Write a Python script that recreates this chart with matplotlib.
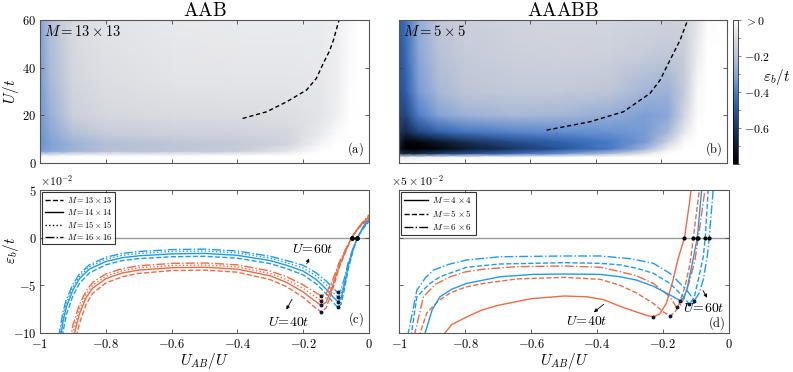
import numpy as np
import matplotlib
matplotlib.use('Agg')
import matplotlib.pyplot as plt
from matplotlib.colors import LinearSegmentedColormap
from matplotlib.ticker import FuncFormatter, MultipleLocator, NullFormatter

plt.rcParams['mathtext.fontset'] = 'cm'
plt.rcParams['font.family'] = ['DejaVu Serif']

# ---------------- heat maps (eps_b / t) ----------------
# AAB, M = 13x13
aab_x = [-1, -0.97, -0.9, -0.8, -0.6, -0.4, -0.25, -0.15, -0.1, -0.06, -0.03, 0]
aab_u = [0, 3, 5, 8, 12, 20, 35, 60]
aab_eps = [
    [0, 0, 0, 0, 0, 0, 0, 0, 0, 0, 0, 0],
    [-0.02, -0.02, -0.01, -0.01, -0.01, 0, 0, 0, 0, 0, 0, 0],
    [-0.33, -0.3, -0.25, -0.21, -0.19, -0.16, -0.07, 0, 0, 0, 0, 0],
    [-0.35, -0.32, -0.26, -0.22, -0.2, -0.18, -0.13, -0.03, 0, 0, 0, 0],
    [-0.35, -0.3, -0.22, -0.17, -0.15, -0.14, -0.12, -0.06, -0.01, 0, 0, 0],
    [-0.34, -0.27, -0.15, -0.11, -0.1, -0.095, -0.09, -0.075, -0.045, -0.005, 0, 0],
    [-0.33, -0.24, -0.12, -0.09, -0.075, -0.07, -0.07, -0.065, -0.05, -0.012, 0, 0],
    [-0.31, -0.22, -0.1, -0.075, -0.06, -0.055, -0.055, -0.055, -0.045, -0.018, 0, 0],
]

# AAABB, M = 5x5
aaabb_x = [-1, -0.98, -0.94, -0.88, -0.8, -0.65, -0.5, -0.35, -0.25, -0.18, -0.13, -0.09, -0.06, 0]
aaabb_u = [0, 2.5, 4, 6, 9, 13, 20, 30, 45, 60]
aaabb_eps = [
    [0, 0, 0, 0, 0, 0, 0, 0, 0, 0, 0, 0, 0, 0],
    [-0.05, -0.05, -0.04, -0.03, -0.02, -0.01, 0, 0, 0, 0, 0, 0, 0, 0],
    [-0.6, -0.65, -0.63, -0.57, -0.52, -0.44, -0.35, -0.22, -0.07, 0, 0, 0, 0, 0],
    [-0.7, -0.8, -0.8, -0.77, -0.7, -0.6, -0.5, -0.4, -0.25, -0.05, 0, 0, 0, 0],
    [-0.65, -0.78, -0.76, -0.7, -0.62, -0.52, -0.46, -0.4, -0.33, -0.15, -0.01, 0, 0, 0],
    [-0.6, -0.65, -0.55, -0.47, -0.42, -0.38, -0.36, -0.35, -0.33, -0.24, -0.06, 0, 0, 0],
    [-0.55, -0.55, -0.4, -0.31, -0.26, -0.24, -0.25, -0.28, -0.32, -0.3, -0.12, -0.01, 0, 0],
    [-0.52, -0.48, -0.33, -0.24, -0.2, -0.18, -0.18, -0.2, -0.25, -0.26, -0.17, -0.02, 0, 0],
    [-0.5, -0.45, -0.3, -0.21, -0.17, -0.15, -0.14, -0.15, -0.17, -0.19, -0.16, -0.05, 0, 0],
    [-0.48, -0.43, -0.28, -0.19, -0.15, -0.13, -0.12, -0.12, -0.13, -0.14, -0.13, -0.07, -0.01, 0],
]

# dashed lines of the minima
aab_line_x = [-0.384, -0.311, -0.25, -0.19, -0.16, -0.139, -0.12, -0.108, -0.091]
aab_line_u = [18.7, 21.5, 25.7, 30.6, 35.5, 41.8, 47, 51.6, 60]
aaabb_line_x = [-0.55, -0.418, -0.316, -0.235, -0.204, -0.184, -0.143, -0.12]
aaabb_line_u = [13.8, 17.3, 21.5, 29.2, 34.8, 40.4, 51.6, 60]

# ---------------- panel (c): AAB, eps_b/t in 1e-2 ----------------
c_blue_x = [-0.95, -0.94, -0.93, -0.92, -0.90, -0.88, -0.85, -0.80, -0.75, -0.70, -0.60, -0.50, -0.40,
            -0.30, -0.25, -0.20, -0.16, -0.13, -0.11, -0.095, -0.085, -0.075, -0.063, -0.048, -0.035, -0.022, 0.0]
c_blue = {
    '13': [-16, -12.7, -9.9, -8.1, -6.1, -4.8, -3.7, -2.85, -2.4, -2.2, -2.0, -1.95, -2.15, -2.72, -3.25,
           -3.9, -4.85, -5.9, -6.75, -7.3, -7.0, -5.5, -3.3, -1.3, 0.0, 0.75, 1.7],
    '14': [-14, -11.2, -8.8, -7.3, -5.5, -4.3, -3.3, -2.5, -2.1, -1.9, -1.7, -1.65, -1.85, -2.4, -2.9,
           -3.5, -4.4, -5.4, -6.2, -6.7, -6.4, -5.0, -3.0, -1.2, 0.0, 0.8, 1.9],
    '15': [-13.0, -10.4, -8.3, -6.9, -5.2, -4.05, -3.05, -2.25, -1.85, -1.65, -1.45, -1.4, -1.6, -2.15, -2.62,
           -3.18, -4.02, -4.95, -5.7, -6.2, -5.92, -4.65, -2.8, -1.12, 0.0, 0.85, 2.0],
    '16': [-12.0, -9.7, -7.8, -6.5, -4.9, -3.8, -2.85, -2.05, -1.65, -1.45, -1.25, -1.2, -1.4, -1.95, -2.4,
           -2.9, -3.7, -4.55, -5.25, -5.75, -5.5, -4.3, -2.6, -1.05, 0.0, 0.9, 2.1],
}
c_orange_x = [-0.91, -0.90, -0.89, -0.88, -0.86, -0.84, -0.80, -0.75, -0.70, -0.60, -0.50, -0.40, -0.30,
              -0.25, -0.20, -0.17, -0.145, -0.13, -0.11, -0.09, -0.07, -0.053, -0.035, -0.02, 0.0]
c_orange = {
    '13': [-15.0, -12.4, -10.5, -9.0, -7.0, -5.85, -4.75, -4.1, -3.75, -3.45, -3.4, -3.62, -4.4, -5.15,
           -6.25, -7.15, -7.8, -7.35, -5.4, -3.1, -1.4, 0.0, 0.85, 1.4, 2.0],
    '14': [-13.0, -10.8, -9.3, -8.0, -6.3, -5.3, -4.3, -3.7, -3.4, -3.15, -3.1, -3.3, -4.0, -4.7,
           -5.7, -6.5, -7.1, -6.75, -5.0, -2.9, -1.3, 0.0, 0.9, 1.5, 2.2],
    '15': [-12.0, -10.0, -8.7, -7.5, -5.95, -5.0, -4.05, -3.47, -3.17, -2.92, -2.87, -3.07, -3.75, -4.4,
           -5.32, -6.05, -6.6, -6.3, -4.7, -2.72, -1.22, 0.0, 0.92, 1.55, 2.3],
    '16': [-11.0, -9.2, -8.1, -7.0, -5.6, -4.7, -3.8, -3.25, -2.95, -2.7, -2.65, -2.85, -3.5, -4.1,
           -4.95, -5.6, -6.1, -5.85, -4.4, -2.55, -1.15, 0.0, 0.95, 1.6, 2.4],
}
c_sizes = ['13', '14', '15', '16']
c_styles = {'13': '--', '14': '-', '15': ':', '16': '-.'}

# ---------------- panel (d): AAABB, eps_b/t in 5e-2 ----------------
d_orange = {
    '4': ([-0.87, -0.861, -0.84, -0.80, -0.75, -0.70, -0.60, -0.50, -0.43, -0.38, -0.33, -0.28, -0.25,
           -0.229, -0.21, -0.19, -0.17, -0.155, -0.135, -0.12, -0.11],
          [-11.5, -10.0, -9.1, -8.4, -7.6, -7.1, -6.4, -6.12, -6.2, -6.5, -7.2, -7.8, -8.15,
           -8.29, -8.0, -6.9, -4.5, -2.3, 0.0, 3.6, 6.5]),
    '5': ([-0.945, -0.936, -0.916, -0.88, -0.845, -0.80, -0.745, -0.643, -0.50, -0.39, -0.33, -0.28,
           -0.229, -0.20, -0.179, -0.165, -0.154, -0.133, -0.118, -0.108, -0.09, -0.085],
          [-12, -10.0, -7.9, -6.6, -5.8, -5.2, -4.8, -4.33, -4.16, -4.37, -5.0, -5.8,
           -6.9, -7.76, -8.2, -7.9, -7.2, -5.1, -2.7, 0.0, 5.0, 6.5]),
    '6': ([-0.96, -0.952, -0.926, -0.89, -0.845, -0.80, -0.745, -0.643, -0.50, -0.39, -0.33, -0.28,
           -0.229, -0.179, -0.159, -0.148, -0.138, -0.118, -0.103, -0.093, -0.073, -0.068],
          [-12, -10.0, -6.2, -4.9, -4.1, -3.6, -3.3, -3.04, -2.97, -3.1, -3.56, -4.0,
           -4.8, -6.2, -7.3, -7.1, -6.5, -4.4, -2.3, 0.0, 5.0, 6.3]),
}
d_blue = {
    '4': ([-0.93, -0.921, -0.90, -0.876, -0.84, -0.795, -0.694, -0.593, -0.50, -0.39, -0.33, -0.28,
           -0.229, -0.179, -0.148, -0.138, -0.128, -0.113, -0.096, -0.083, -0.078],
          [-12, -10.0, -7.6, -6.2, -5.4, -4.8, -4.1, -3.85, -3.81, -3.85, -4.1, -4.45,
           -5.1, -6.0, -6.6, -6.3, -5.5, -3.0, 0.0, 5.0, 6.5]),
    '5': ([-0.97, -0.962, -0.946, -0.91, -0.876, -0.795, -0.694, -0.50, -0.39, -0.33, -0.28, -0.229,
           -0.179, -0.138, -0.12, -0.105, -0.093, -0.078, -0.072, -0.063, -0.058],
          [-12, -10.0, -6.2, -4.9, -4.1, -3.1, -2.76, -2.62, -2.69, -2.86, -3.2, -3.74,
           -4.8, -6.2, -7.0, -6.2, -4.4, -2.0, 0.0, 5.0, 6.5]),
    '6': ([-0.98, -0.972, -0.946, -0.92, -0.896, -0.85, -0.795, -0.694, -0.50, -0.39, -0.30, -0.229,
           -0.179, -0.128, -0.105, -0.09, -0.078, -0.066, -0.060, -0.048, -0.044],
          [-12, -10.0, -5.5, -4.2, -3.4, -2.8, -2.34, -2.0, -1.92, -1.92, -2.2, -2.69,
           -3.74, -5.5, -6.6, -5.8, -4.4, -2.0, 0.0, 5.0, 6.5]),
}
d_sizes = ['4', '5', '6']
d_styles = {'4': '-', '5': '--', '6': '-.'}

col_blue = '#1e9bf0'
col_orange = '#ee6a44'

cmap = LinearSegmentedColormap.from_list('eps', [
    (0.0, '#000000'), (0.1, '#0a1322'), (0.25, '#1b3662'), (0.4, '#2c5ca8'),
    (0.5, '#4a7cc8'), (0.6, '#7d9fd6'), (0.75, '#bcc4d6'), (0.88, '#dadbe0'), (1.0, '#ffffff')])
vmin, vmax = -0.8, 0.0

mfmt = FuncFormatter(lambda v, p: '$%g$' % round(v, 6))


def mark_extrema(ax, xs, ys):
    xs = np.asarray(xs)
    ys = np.asarray(ys)
    right = np.where(xs > -0.5)[0]
    i_min = right[np.argmin(ys[right])]
    i_zero = int(np.argmin(np.abs(ys)))
    ax.plot(xs[i_min], ys[i_min], 'o', color='#0a1a3a', ms=1.8, zorder=4)
    ax.plot(xs[i_zero], ys[i_zero], 'o', color='k', ms=2.0, zorder=4)


fig = plt.figure(figsize=(7.93, 3.72), dpi=100)
ax_a = fig.add_axes([0.0504, 0.5618, 0.4149, 0.3844])
ax_b = fig.add_axes([0.5032, 0.5618, 0.4136, 0.3844])
cax = fig.add_axes([0.9243, 0.5591, 0.0063, 0.3871])
ax_c = fig.add_axes([0.0504, 0.1048, 0.4149, 0.3844])
ax_d = fig.add_axes([0.5032, 0.1048, 0.4161, 0.3844])

for ax in (ax_a, ax_b, ax_c, ax_d):
    ax.tick_params(direction='in', top=True, right=True, length=3, width=0.6,
                   labelsize=9, color='#444444', pad=2.5)
    ax.tick_params(axis='x', pad=3.5)
    for s in ax.spines.values():
        s.set_linewidth(0.8)
        s.set_color('#555555')
    ax.set_xlim(-1, 0)
    ax.xaxis.set_major_locator(MultipleLocator(0.2))
    ax.xaxis.set_major_formatter(mfmt)
    ax.yaxis.set_major_formatter(mfmt)

# top heat maps
X, Y = np.meshgrid(aab_x, aab_u)
mesh = ax_a.pcolormesh(X, Y, np.array(aab_eps), cmap=cmap, vmin=vmin, vmax=vmax, shading='gouraud')
ax_a.plot(aab_line_x, aab_line_u, 'k--', lw=1.0, dashes=(3, 2))
X, Y = np.meshgrid(aaabb_x, aaabb_u)
ax_b.pcolormesh(X, Y, np.array(aaabb_eps), cmap=cmap, vmin=vmin, vmax=vmax, shading='gouraud')
ax_b.plot(aaabb_line_x, aaabb_line_u, 'k--', lw=1.0, dashes=(3, 2))

for ax in (ax_a, ax_b):
    ax.set_ylim(0, 60)
    ax.yaxis.set_major_locator(MultipleLocator(20))
    ax.xaxis.set_major_formatter(NullFormatter())
ax_b.yaxis.set_major_formatter(NullFormatter())
ax_a.set_ylabel('$U/t$', fontsize=11)
ax_a.yaxis.set_label_coords(-0.058, 0.5)
ax_a.set_title(r'$\mathrm{AAB}$', fontsize=14, pad=3)
ax_b.set_title(r'$\mathrm{AAABB}$', fontsize=14, pad=3)
ax_a.text(0.012, 0.97, r'$M=13\times13$', transform=ax_a.transAxes, fontsize=10.5, va='top', ha='left')
ax_b.text(0.012, 0.97, r'$M=5\times5$', transform=ax_b.transAxes, fontsize=10.5, va='top', ha='left')
ax_a.text(0.985, 0.035, r'$\mathrm{(a)}$', transform=ax_a.transAxes, fontsize=9, ha='right', va='bottom')
ax_b.text(0.985, 0.035, r'$\mathrm{(b)}$', transform=ax_b.transAxes, fontsize=9, ha='right', va='bottom')

cb = fig.colorbar(mesh, cax=cax)
cb.outline.set_linewidth(0.5)
cb.set_ticks([0, -0.2, -0.4, -0.6])
cb.set_ticklabels(['$>0$', '$-0.2$', '$-0.4$', '$-0.6$'])
cb.ax.yaxis.set_minor_locator(MultipleLocator(0.1))
cb.ax.tick_params(labelsize=8.5, length=2.5, width=0.5, color='#555555', pad=2)
cb.ax.tick_params(which='minor', length=1.5, width=0.5, color='#555555')
fig.text(0.979, 0.792, r'$\varepsilon_b/t$', fontsize=11, ha='center', va='center')

# panel (c)
ax_c.axhline(0, color='#999999', lw=1.0, zorder=1)
for color, xs, curves in ((col_blue, c_blue_x, c_blue), (col_orange, c_orange_x, c_orange)):
    for m in c_sizes:
        ax_c.plot(xs, curves[m], c_styles[m], color=color, lw=1.0, zorder=2)
        mark_extrema(ax_c, xs, curves[m])
for m in c_sizes:
    ax_c.plot([], [], c_styles[m], color='k', lw=1.0, label=r'$M=%s\times%s$' % (m, m))
leg = ax_c.legend(loc='upper left', fontsize=6, frameon=True, fancybox=False, edgecolor='k',
                  borderpad=0.3, labelspacing=0.25, handlelength=2.2, handletextpad=0.5,
                  borderaxespad=0.25)
leg.get_frame().set_linewidth(0.8)
ax_c.set_ylim(-10, 5)
ax_c.yaxis.set_major_locator(MultipleLocator(5))
ax_c.set_ylabel(r'$\varepsilon_b/t$', fontsize=11)
ax_c.yaxis.set_label_coords(-0.058, 0.58)
ax_c.set_xlabel(r'$U_{AB}/U$', fontsize=11, labelpad=0)
ax_c.text(0.0, 1.01, r'$\times10^{-2}$', transform=ax_c.transAxes, fontsize=8.5, va='bottom', ha='left')
ax_c.text(0.985, 0.035, r'$\mathrm{(c)}$', transform=ax_c.transAxes, fontsize=9, ha='right', va='bottom')
ax_c.text(-0.17, -1.2, r'$U\!=\!60t$', fontsize=10, ha='center', va='center')
ax_c.annotate('', xy=(-0.179, -1.9), xytext=(-0.192, -3.0),
              arrowprops=dict(arrowstyle='-|>', lw=0.6, color='k', mutation_scale=5))
ax_c.text(-0.245, -8.8, r'$U\!=\!40t$', fontsize=10, ha='center', va='center')
ax_c.annotate('', xy=(-0.255, -7.8), xytext=(-0.23, -6.2),
              arrowprops=dict(arrowstyle='-|>', lw=0.6, color='k', mutation_scale=5))

# panel (d)
ax_d.axhline(0, color='#999999', lw=1.0, zorder=1)
for color, curves in ((col_orange, d_orange), (col_blue, d_blue)):
    for m in d_sizes:
        xs, ys = curves[m]
        ax_d.plot(xs, ys, d_styles[m], color=color, lw=1.0, zorder=2)
        mark_extrema(ax_d, xs, ys)
for m in d_sizes:
    ax_d.plot([], [], d_styles[m], color='k', lw=1.0, label=r'$M=%s\times%s$' % (m, m))
leg = ax_d.legend(loc='upper left', fontsize=6.5, frameon=True, fancybox=False, edgecolor='k',
                  borderpad=0.35, labelspacing=0.3, handlelength=2.6, handletextpad=0.5,
                  borderaxespad=0.25)
leg.get_frame().set_linewidth(0.8)
ax_d.set_ylim(-10, 5)
ax_d.yaxis.set_major_locator(MultipleLocator(5))
ax_d.yaxis.set_major_formatter(NullFormatter())
ax_d.set_xlabel(r'$U_{AB}/U$', fontsize=11, labelpad=0)
ax_d.text(-0.025, 1.01, r'$\times5\times10^{-2}$', transform=ax_d.transAxes, fontsize=8.5,
          va='bottom', ha='left')
ax_d.text(0.99, 0.005, r'$\mathrm{(d)}$', transform=ax_d.transAxes, fontsize=9, ha='right', va='bottom')
ax_d.text(-0.43, -8.75, r'$U\!=\!40t$', fontsize=10, ha='center', va='center')
ax_d.annotate('', xy=(-0.416, -8.0), xytext=(-0.373, -6.8),
              arrowprops=dict(arrowstyle='-|>', lw=0.6, color='k', mutation_scale=5))
ax_d.text(-0.078, -7.35, r'$U\!=\!60t$', fontsize=10, ha='center', va='center')
ax_d.annotate('', xy=(-0.062, -6.55), xytext=(-0.083, -5.3),
              arrowprops=dict(arrowstyle='-|>', lw=0.6, color='k', mutation_scale=5))

fig.savefig('out.png', dpi=100)
